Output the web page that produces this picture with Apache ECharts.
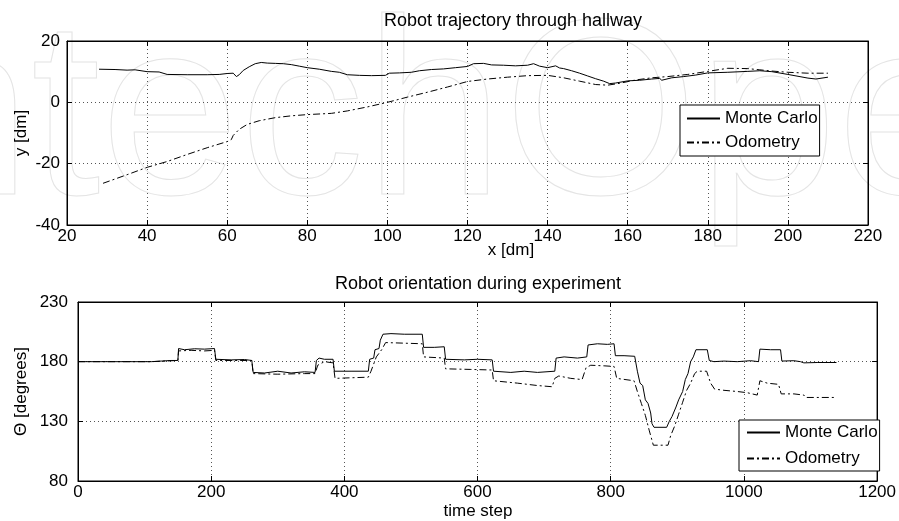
<!DOCTYPE html>
<html><head><meta charset="utf-8">
<script src="https://cdn.jsdelivr.net/npm/echarts@6/dist/echarts.min.js"></script>
<style>html,body{margin:0;padding:0;background:#fff}#c{width:899px;height:521px}</style>
</head><body><div id="c"></div>
<script>
// ---- Top plot: trajectory (x [dm], y [dm]) ----
const mcTrajX = [28, 32, 35, 37, 40, 43, 45, 50, 55, 58, 60, 61.5, 62.3, 63, 64, 65.5, 67, 68.5, 70, 72, 74, 76, 78, 80, 83, 86, 88, 90, 93, 96, 99.5, 100.5, 103, 106, 108, 111, 114, 117, 120, 121.5, 124, 126, 129, 132, 135, 136.5, 138, 140, 142, 143, 144, 146, 148, 150, 152, 154, 155.5, 157, 160, 163, 166, 168, 168.5, 171, 174, 177, 180, 185, 190, 193, 196, 200, 205, 207, 210];
const mcTrajY = [10.8, 10.7, 10.5, 10.6, 10.0, 9.9, 9.1, 9.0, 9.0, 9.1, 9.4, 9.5, 8.4, 9.0, 10.4, 11.6, 12.6, 13.0, 12.8, 12.7, 12.6, 12.3, 11.8, 11.3, 10.8, 10.1, 9.8, 9.0, 8.8, 8.7, 8.8, 9.5, 9.6, 9.8, 10.3, 10.7, 10.9, 11.3, 11.7, 12.6, 12.7, 12.2, 12.1, 11.9, 12.1, 12.6, 11.8, 11.3, 11.9, 11.2, 11.0, 10.3, 9.5, 8.6, 7.7, 6.9, 6.1, 6.3, 7.0, 7.2, 7.6, 7.8, 7.2, 8.0, 8.4, 8.9, 9.6, 9.8, 10.1, 10.3, 10.0, 9.1, 7.9, 7.6, 8.2];
const odoTrajX = [29, 35, 40, 45, 50, 55, 60, 61, 61.5, 63, 65, 68, 72, 76, 80, 86, 90, 95, 100, 105, 110, 115, 120, 125, 130, 135, 140, 144, 148, 152, 155, 158, 162, 166, 170, 175, 180, 185, 190, 193, 196, 200, 205, 210];
const odoTrajY = [-26.4, -23.6, -21.2, -19.3, -17.0, -14.8, -12.8, -12.2, -10.8, -8.8, -7.2, -6.0, -5.0, -4.4, -4.0, -3.6, -2.8, -1.5, 0.0, 1.7, 3.3, 5.0, 6.8, 7.6, 8.2, 8.7, 8.8, 8.0, 6.9, 5.8, 5.6, 6.2, 7.3, 8.0, 8.4, 9.1, 10.1, 11.1, 11.0, 10.6, 10.2, 9.8, 9.5, 9.5];
const trajXTicks = {min: 20, max: 220, step: 20};
const trajYTicks = {min: -40, max: 20, step: 20};

// ---- Bottom plot: orientation (time step, degrees) ----
const mcT = [0, 110, 112, 125, 140, 150, 151, 160, 175, 190, 205, 207, 230, 250, 261, 263, 280, 300, 320, 340, 356, 358, 362, 370, 383, 385, 410, 436, 438, 444, 446, 452, 454, 458, 470, 490, 517, 519, 535, 550, 552, 580, 600, 622, 624, 650, 670, 690, 716, 718, 730, 750, 764, 766, 780, 795, 805, 807, 820, 836, 840, 844, 848, 852, 856, 860, 862, 865, 884, 888, 892, 898, 902, 908, 912, 916, 920, 924, 928, 945, 948, 955, 970, 990, 1010, 1022, 1024, 1040, 1055, 1057, 1075, 1085, 1090, 1110, 1139];
const mcTheta = [180, 180, 181, 180.5, 181, 181, 191, 190, 190.8, 190.5, 191, 182, 181.5, 181.8, 181, 171, 170.5, 172, 170.5, 171.5, 171, 181, 183, 182, 182, 172, 172, 172, 182, 183, 190, 191, 198, 203, 203.5, 203, 203, 192, 192, 192.5, 182, 181.5, 182, 181.5, 172, 171, 172, 171, 172, 183, 184, 183, 184, 194, 195, 194.5, 195, 185, 185, 184.5, 172, 162, 160, 148, 145, 137, 128, 125, 125, 130, 134, 142, 148, 155, 165, 170, 180, 184, 190, 190, 181, 180, 180.5, 180, 180.8, 180, 190.5, 190, 190, 180.5, 180.8, 180, 179, 179.3, 179.3];
const odoT = [0, 110, 150, 151, 170, 190, 205, 207, 261, 263, 300, 340, 356, 360, 370, 383, 386, 410, 436, 440, 448, 456, 462, 490, 517, 519, 550, 552, 590, 622, 624, 660, 690, 712, 716, 722, 740, 757, 763, 770, 790, 805, 809, 835, 840, 846, 852, 858, 864, 886, 890, 896, 902, 908, 914, 920, 926, 930, 944, 950, 956, 970, 990, 1005, 1020, 1024, 1035, 1052, 1056, 1075, 1090, 1093, 1139];
const odoTheta = [180, 180, 181, 189, 189.5, 189, 189.5, 181, 181, 170, 169.5, 170, 170, 177, 180, 179, 166, 166.5, 167, 172, 184, 190, 196, 195.5, 195, 184, 183, 174, 173.5, 173, 164, 162, 160, 159, 166, 168, 166, 165, 175, 177, 176.5, 176, 166, 164, 155, 145, 135, 122, 110, 110, 118, 126, 136, 146, 156, 162, 170, 172, 172, 162, 157, 156, 155, 154, 152, 164, 162, 161, 153, 153, 152, 150, 150];
const oriXTicks = {min: 0, max: 1200, step: 200};
const oriYTicks = {min: 80, max: 230, step: 50};

const seriesNames = ['Monte Carlo', 'Odometry'];
const titles = ['Robot trajectory through hallway', 'Robot orientation during experiment'];
const axisNames = {x1: 'x [dm]', y1: 'y [dm]', x2: 'time step', y2: '\u0398 [degrees]'};

const FONT = '"Liberation Sans", Arial, Helvetica, sans-serif';
const zip = (a, b) => a.map((v, i) => [v, b[i]]);
const dashDot = [7, 3, 2, 3];

function xAx(grid, t, pos, labels, margin) {
  return {
    type: 'value', gridIndex: grid, position: pos, min: t.min, max: t.max, interval: t.step,
    axisLine: {show: true, onZero: false, lineStyle: {color: '#000', width: 1}},
    axisTick: {show: true, inside: true, length: 5, lineStyle: {color: '#000'}},
    axisLabel: {show: labels, color: '#000', fontSize: 17, fontFamily: FONT, margin: margin,
                showMinLabel: true, showMaxLabel: true, formatter: v => String(v)},
    splitLine: {show: labels, lineStyle: {type: [1, 3], color: '#555', width: 1}}
  };
}
function yAx(grid, t, pos, labels, margin, name, gap) {
  const a = xAx(grid, t, pos, labels, margin);
  if (name) {
    a.name = name; a.nameLocation = 'middle'; a.nameGap = gap; a.nameRotate = 90;
    a.nameMoveOverlap = false;
    a.nameTextStyle = {color: '#000', fontSize: 17, fontFamily: FONT};
  }
  return a;
}
const legendCommon = {
  data: seriesNames, orient: 'vertical', itemWidth: 33, itemHeight: 10,
  backgroundColor: '#fff', borderColor: '#000', borderWidth: 1, borderRadius: 0,
  itemStyle: {opacity: 0}, textStyle: {color: '#000', fontSize: 17, fontFamily: FONT}, selectedMode: false
};

const option = {
  animation: false,
  backgroundColor: '#fff',
  grid: [
    {left: 67, top: 41, width: 801, height: 184, show: true, borderColor: '#000', borderWidth: 1, backgroundColor: 'transparent'},
    {left: 78, top: 302, width: 801, height: 179, show: true, borderColor: '#000', borderWidth: 1, backgroundColor: 'transparent'}
  ],
  xAxis: [
    xAx(0, trajXTicks, 'bottom', true, 3),
    xAx(0, trajXTicks, 'top', false, 3),
    xAx(1, oriXTicks, 'bottom', true, 3),
    xAx(1, oriXTicks, 'top', false, 3)
  ],
  yAxis: [
    yAx(0, trajYTicks, 'left', true, 7, axisNames.y1, 37),
    yAx(0, trajYTicks, 'right', false, 7),
    yAx(1, oriYTicks, 'left', true, 10, axisNames.y2, 48),
    yAx(1, oriYTicks, 'right', false, 10)
  ],
  legend: [
    Object.assign({}, legendCommon, {left: 680, top: 105, itemGap: 7, padding: [5, 2, 5, 6]}),
    Object.assign({}, legendCommon, {left: 739, top: 420, itemGap: 9, padding: [4, 2, 4, 7]})
  ],
  graphic: [
    {type: 'text', z: -10, left: -178, top: 0, silent: true,
     style: {text: 'IntechOpen', font: '250px "Liberation Sans", Arial, sans-serif', fill: 'rgba(0,0,0,0)', stroke: '#e4e4e4', lineWidth: 1}},
    {type: 'text', x: 513, y: 21, style: {text: titles[0], font: '18px ' + FONT, fill: '#000', align: 'center', verticalAlign: 'middle'}},
    {type: 'text', x: 478, y: 284, style: {text: titles[1], font: '18px ' + FONT, fill: '#000', align: 'center', verticalAlign: 'middle'}},
    {type: 'text', x: 511, y: 250, style: {text: axisNames.x1, font: '17px ' + FONT, fill: '#000', align: 'center', verticalAlign: 'middle'}},
    {type: 'text', x: 478, y: 511, style: {text: axisNames.x2, font: '17px ' + FONT, fill: '#000', align: 'center', verticalAlign: 'middle'}}
  ],
  series: [
    {name: seriesNames[0], type: 'line', xAxisIndex: 0, yAxisIndex: 0, data: zip(mcTrajX, mcTrajY), symbol: 'none',
     lineStyle: {color: '#000', width: 1}, itemStyle: {color: '#000'}},
    {name: seriesNames[1], type: 'line', xAxisIndex: 0, yAxisIndex: 0, data: zip(odoTrajX, odoTrajY), symbol: 'none',
     lineStyle: {color: '#000', width: 1, type: dashDot}, itemStyle: {color: '#000'}},
    {name: seriesNames[0], type: 'line', xAxisIndex: 2, yAxisIndex: 2, data: zip(mcT, mcTheta), symbol: 'none',
     lineStyle: {color: '#000', width: 1}, itemStyle: {color: '#000'}},
    {name: seriesNames[1], type: 'line', xAxisIndex: 2, yAxisIndex: 2, data: zip(odoT, odoTheta), symbol: 'none',
     lineStyle: {color: '#000', width: 1, type: dashDot}, itemStyle: {color: '#000'}}
  ]
};
const chart = echarts.init(document.getElementById('c'));
chart.setOption(option);
</script></body></html>
